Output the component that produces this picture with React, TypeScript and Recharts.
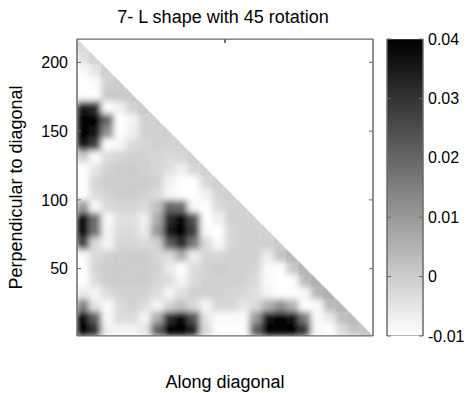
import React from 'react';
import { ComposedChart, BarChart, Bar, XAxis, YAxis } from 'recharts';

const title = '7- L shape with 45 rotation';
const xLabel = 'Along diagonal';
const yLabel = 'Perpendicular to diagonal';

const axisDomain: [number, number] = [1, 217];
const axisTicks = [50, 100, 150, 200];
const cellSize = 9;

const colorDomain: [number, number] = [-0.01, 0.04];
const colorTicks = [-0.01, 0, 0.01, 0.02, 0.03, 0.04];

// values in units of 0.001; top row first,
// row k holds k + 1 cells counted from the left edge (lower-left triangle)
const heatRows: number[][] = [
  [-3],
  [-4, -2],
  [-9, -5, -1],
  [-10, -9, -1, 0],
  [-10, -10, 1, 1, 0],
  [36, 32, -10, -7, -1, 0],
  [40, 40, 20, -10, -8, -1, -1],
  [40, 38, 12, -10, -7, -1, -1, -1],
  [38, 28, -10, -8, -3, -2, -1, -1, -1],
  [0, -10, -3, -2, -1, -1, -2, -3, -2, -1],
  [-10, -5, -1, 0, 0, -1, -2, -4, -7, -2, -1],
  [-10, -2, 0, 0, 0, 0, -1, -7, -10, -10, -2, -1],
  [-10, -3, -1, 0, 0, -1, -3, -8, -10, -10, -7, -1, -1],
  [10, -9, -3, -2, -2, -3, 2, 20, 18, -9, -10, -3, -1, -1],
  [40, 18, -9, -4, -4, -7, 6, 32, 40, 24, -10, -7, -1, -1, -1],
  [40, 18, -8, -3, -3, -6, 10, 36, 40, 28, -9, -10, -2, -1, -1, -1],
  [28, -3, -8, -2, -2, -3, -1, 22, 32, 16, -3, -9, -2, -1, -1, -1, 0],
  [-9, -3, -1, 0, 0, 0, -2, -3, 6, -7, -2, -2, -1, -1, -1, -6, 2, 3],
  [-10, -2, 0, 0, 0, 0, -1, -6, -10, -3, -1, 0, -1, -1, -2, -9, -10, 1, 4],
  [-10, -3, 0, 0, 0, 0, -2, -3, -8, -3, -1, -1, -1, -1, -3, -9, -10, -10, 4, 5],
  [-6, -8, -3, -1, -1, -1, -3, -8, -4, -1, -1, -1, -2, -2, -4, -8, -10, -10, -8, 5, 5],
  [15, -5, -9, -3, -1, -3, -8, -2, 2, -3, -8, -2, -2, -5, -3, 5, 12, 5, -10, -9, 4, 4],
  [40, 22, -9, -3, -3, -8, 6, 32, 40, 24, -5, -9, -9, -9, 10, 38, 40, 38, 16, -9, -6, 3, 3],
  [40, 32, -7, -8, -8, -5, 22, 40, 40, 34, -3, -10, -10, -10, 22, 40, 40, 40, 30, -9, -10, -3, 2, 1],
];

const font = '"Liberation Sans", Arial, sans-serif';
const frame = '#6b6b6b';
const W = 468;
const H = 393;
// plot box of the heat map
const plot = { left: 77, top: 39, right: 373, bottom: 336 };

function gray(v: number) {
  const t = Math.min(1, Math.max(0, (v - colorDomain[0]) / (colorDomain[1] - colorDomain[0])));
  const c = Math.round(255 * (1 - t));
  return `rgb(${c},${c},${c})`;
}

const n = heatRows.length;
// heat value of column i, row j (row 0 at the bottom)
const heatAt = (i: number, j: number) => heatRows[n - 1 - j]?.[i];

// one stacked column per x cell, each segment one cell high;
// "diag" is the cell cut by the diagonal, "outside" the empty part above it
const rowKeys = Array.from({ length: n - 1 }, (_, j) => `r${j}`);
const columns = Array.from({ length: n }, (_, i) => {
  const entry: Record<string, any> = { col: `c${i}` };
  rowKeys.forEach((key, j) => {
    if (i + j < n - 1) entry[key] = cellSize;
  });
  entry.base = (n - 1 - i) * cellSize;
  entry.diag = cellSize;
  entry.outside = i * cellSize;
  return entry;
});

const cellShape = (j: number) => (props: any) => {
  const { x, y, width, height, index } = props;
  const v = heatAt(index, j);
  if (v === undefined || !height) return <g />;
  const color = gray(v / 1000);
  return <rect x={x} y={y} width={width} height={height} fill={color} stroke={color} strokeWidth={0.6} />;
};

// full square, used as blur source
const diagSquare = (props: any) => {
  const { x, y, width, height, index } = props;
  const color = gray(heatAt(index, n - 1 - index) / 1000);
  return <rect x={x} y={y} width={width} height={height} fill={color} stroke={color} strokeWidth={0.6} />;
};

// crisp cut cell: coloured lower-left half, white upper-right half
const diagCut = (props: any) => {
  const { x, y, width, height, index } = props;
  const color = gray(heatAt(index, n - 1 - index) / 1000);
  return (
    <g>
      <polygon
        points={`${x},${y} ${x},${y + height} ${x + width},${y + height}`}
        fill={color}
        stroke={color}
        strokeWidth={0.3}
      />
      <polygon
        points={`${x},${y - 0.5} ${x + width + 0.5},${y - 0.5} ${x + width + 0.5},${y + height}`}
        fill="#fff"
      />
    </g>
  );
};

const whiteShape = (props: any) => {
  const { x, y, width, height } = props;
  if (!height) return <g />;
  return <rect x={x} y={y - 0.5} width={width + 0.5} height={height + 0.5} fill="#fff" />;
};

const emptyShape = () => <g />;

const plotBox = [{ name: 'box', range: axisDomain }];
const colorBar = [{ name: 'cb', range: colorDomain }];

const tickStyle = { fill: '#000', fontSize: 16, fontFamily: font };
const blank = () => '';
const layer = { position: 'absolute' as const, left: 0, top: 0, width: W, height: H };
const plotMargin = { top: plot.top, right: W - plot.right, bottom: H - plot.bottom, left: plot.left };

function CellsChart({ children }: { children: React.ReactNode }) {
  return (
    <ComposedChart width={W} height={H} data={columns} barCategoryGap={0} barGap={0} margin={plotMargin}>
      <XAxis xAxisId="cells" dataKey="col" type="category" hide />
      <YAxis yAxisId="cells" type="number" domain={[0, n * cellSize]} allowDataOverflow hide />
      {children}
    </ComposedChart>
  );
}

export default function App() {
  return (
    <div style={{ ...layer, background: '#fff', fontFamily: font }}>
      <svg width={0} height={0} style={{ position: 'absolute' }}>
        <defs>
          <linearGradient id="cbGrad" x1="0" y1="0" x2="0" y2="1">
            <stop offset="0%" stopColor={gray(colorDomain[1])} />
            <stop offset="100%" stopColor={gray(colorDomain[0])} />
          </linearGradient>
          <filter
            id="smooth"
            filterUnits="userSpaceOnUse"
            x={plot.left}
            y={plot.top}
            width={plot.right - plot.left}
            height={plot.bottom - plot.top}
          >
            <feGaussianBlur stdDeviation={3} edgeMode="duplicate" />
          </filter>
        </defs>
      </svg>

      <div style={{ position: 'absolute', left: 0, top: 6, width: 446, textAlign: 'center', fontSize: 18, lineHeight: '22px', color: '#000' }}>
        {title}
      </div>

      {/* all cells, softened like the shaded original */}
      <div style={{ ...layer, filter: 'url(#smooth)' }}>
        <CellsChart>
          {rowKeys.map((key, j) => (
            <Bar
              key={key}
              dataKey={key}
              stackId="heat"
              xAxisId="cells"
              yAxisId="cells"
              shape={cellShape(j)}
              isAnimationActive={false}
            />
          ))}
          <Bar dataKey="diag" stackId="heat" xAxisId="cells" yAxisId="cells" shape={diagSquare} isAnimationActive={false} />
        </CellsChart>
      </div>

      {/* crisp diagonal edge and the empty area beyond it */}
      <div style={layer}>
        <CellsChart>
          <Bar dataKey="base" stackId="edge" xAxisId="cells" yAxisId="cells" shape={emptyShape} isAnimationActive={false} />
          <Bar dataKey="diag" stackId="edge" xAxisId="cells" yAxisId="cells" shape={diagCut} isAnimationActive={false} />
          <Bar dataKey="outside" stackId="edge" xAxisId="cells" yAxisId="cells" shape={whiteShape} isAnimationActive={false} />
        </CellsChart>
      </div>

      {/* box around the plot, with ticks on its top and right edges */}
      <div style={layer}>
        <BarChart
          width={W}
          height={H}
          data={plotBox}
          barCategoryGap={0}
          margin={{ top: plot.top - 1, right: W - plot.right - 1, bottom: H - plot.bottom, left: plot.left }}
        >
          <XAxis dataKey="name" type="category" hide />
          <YAxis type="number" domain={axisDomain} allowDataOverflow hide />
          <XAxis
            xAxisId="top"
            orientation="top"
            type="number"
            domain={axisDomain}
            ticks={axisTicks}
            allowDataOverflow
            height={1}
            stroke={frame}
            tickSize={-4}
            tickFormatter={blank}
          />
          <YAxis
            yAxisId="right"
            orientation="right"
            type="number"
            domain={axisDomain}
            ticks={axisTicks}
            allowDataOverflow
            width={1}
            stroke={frame}
            tickSize={-4}
            tickFormatter={blank}
          />
          <Bar dataKey="range" fill="none" stroke={frame} isAnimationActive={false} />
        </BarChart>
      </div>

      {/* bottom and left axes */}
      <div style={layer}>
        <ComposedChart width={W} height={H} margin={{ top: plot.top, right: W - plot.right, bottom: 0, left: 0 }}>
          <XAxis
            type="number"
            domain={axisDomain}
            ticks={axisTicks}
            allowDataOverflow
            height={H - plot.bottom}
            stroke={frame}
            tickSize={-4}
            tickMargin={20}
            tick={tickStyle}
            label={{ value: xLabel, position: 'insideBottom', offset: 5, fill: '#000', fontSize: 18, fontFamily: font }}
          />
          <YAxis
            type="number"
            domain={axisDomain}
            ticks={axisTicks}
            allowDataOverflow
            width={plot.left}
            stroke={frame}
            tickSize={-4}
            tickMargin={13}
            tick={tickStyle}
            label={{
              value: yLabel,
              angle: -90,
              position: 'insideLeft',
              offset: 16,
              fill: '#000',
              fontSize: 18,
              fontFamily: font,
              style: { textAnchor: 'middle' },
            }}
          />
        </ComposedChart>
      </div>

      {/* colour bar */}
      <div style={layer}>
        <BarChart width={W} height={H} data={colorBar} barCategoryGap={0} margin={{ top: plot.top, right: 0, bottom: H - plot.bottom, left: 386 }}>
          <XAxis dataKey="name" type="category" hide />
          <YAxis
            type="number"
            domain={colorDomain}
            ticks={colorTicks}
            allowDataOverflow
            width={1}
            stroke={frame}
            tickSize={-4}
            tickFormatter={blank}
          />
          <YAxis
            yAxisId="cb"
            orientation="right"
            type="number"
            domain={colorDomain}
            ticks={colorTicks}
            allowDataOverflow
            width={45}
            stroke={frame}
            tickSize={-4}
            tickMargin={9}
            tick={tickStyle}
          />
          <Bar dataKey="range" fill="url(#cbGrad)" stroke={frame} isAnimationActive={false} />
        </BarChart>
      </div>
    </div>
  );
}
